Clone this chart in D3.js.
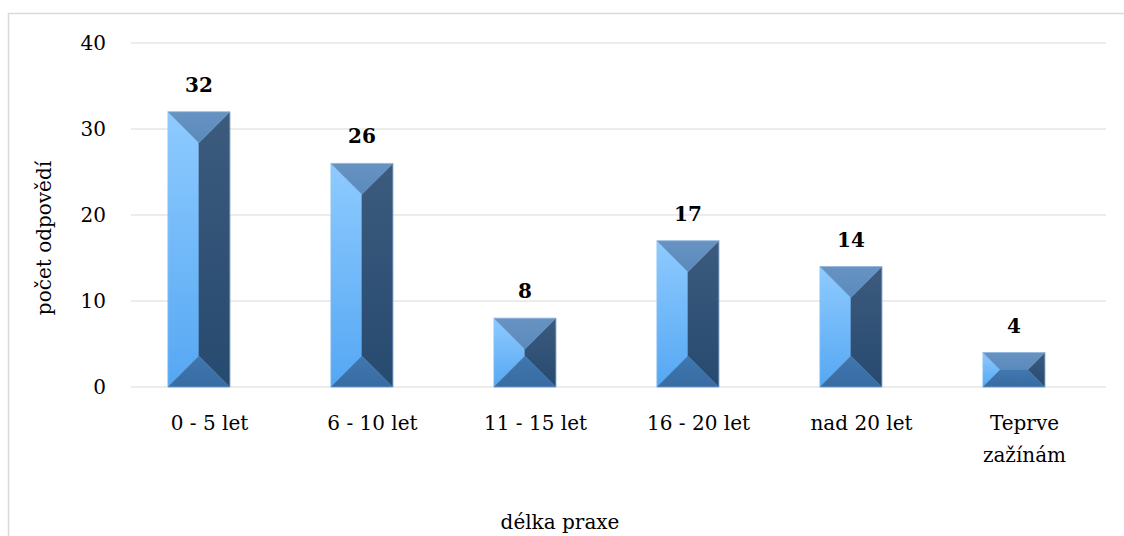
<!DOCTYPE html>
<html>
<head>
<meta charset="utf-8">
<script src="https://cdn.jsdelivr.net/npm/d3@7"></script>
<style>
  html, body { margin: 0; padding: 0; background: #fff; }
  svg { display: block; }
  text { font-family: "DejaVu Serif", "Liberation Serif", serif; fill: #000; }
</style>
</head>
<body>
<svg id="chart" width="1124" height="536"></svg>
<script>
// Délka praxe respondentů
const categories = ["0 - 5 let", "6 - 10 let", "11 - 15 let", "16 - 20 let", "nad 20 let", "Teprve zažínám"];
const values = [32, 26, 8, 17, 14, 4];
const yTicks = [0, 10, 20, 30, 40];
const yTitle = "počet odpovědí";
const xTitle = "délka praxe";

const W = 1124, H = 536;
const plot = { left: 128, right: 1106, top: 43, bottom: 387 };
const fs = 20;

const svg = d3.select("#chart");

// outer chart frame
svg.append("rect")
  .attr("x", 8.5).attr("y", 13.5)
  .attr("width", 1140).attr("height", 560)
  .attr("fill", "none").attr("stroke", "#d9d9d9").attr("stroke-width", 1.5);

const x = d3.scaleBand().domain(categories).range([plot.left, plot.right]).padding(0);
const y = d3.scaleLinear().domain([0, 40]).range([plot.bottom, plot.top]);

// gradients for the bevelled bar faces
const defs = svg.append("defs");
function vGrad(id, c0, c1) {
  const g = defs.append("linearGradient").attr("id", id)
    .attr("x1", 0).attr("y1", 0).attr("x2", 0).attr("y2", 1);
  g.append("stop").attr("offset", "0%").attr("stop-color", c0);
  g.append("stop").attr("offset", "100%").attr("stop-color", c1);
}
vGrad("faceLeft", "#8ecbff", "#55a7f3");
vGrad("faceRight", "#3c5b7d", "#274a70");
vGrad("faceTop", "#6793c2", "#5a8abd");
vGrad("faceBottom", "#3f77ae", "#386ca3");

// horizontal gridlines
svg.append("g")
  .selectAll("line")
  .data(yTicks)
  .join("line")
  .attr("x1", 131).attr("x2", plot.right)
  .attr("y1", d => y(d)).attr("y2", d => y(d))
  .attr("stroke", "#d9d9d9").attr("stroke-width", 1.2);

// y tick labels
svg.append("g")
  .selectAll("text")
  .data(yTicks)
  .join("text")
  .attr("x", 106).attr("y", d => y(d))
  .attr("dy", "0.36em")
  .attr("text-anchor", "end")
  .attr("font-size", fs)
  .text(d => d);

// bars: four bevelled faces meeting in the middle
const barW = x.bandwidth() * 0.38;
const shift = -x.bandwidth() * 0.065;

const bars = svg.append("g")
  .selectAll("g")
  .data(categories.map((c, i) => ({ c, v: values[i] })))
  .join("g");

bars.each(function(d) {
  const g = d3.select(this);
  const cx = x(d.c) + x.bandwidth() / 2 + shift;
  const x0 = cx - barW / 2, x1 = cx + barW / 2;
  const y0 = y(d.v), y1 = y(0);
  const h = y1 - y0;
  const k = Math.min(barW, h) / 2;
  const ix0 = x0 + k, ix1 = x1 - k, iy0 = y0 + k, iy1 = y1 - k;
  const faces = [
    ["faceLeft",   [[x0, y0], [ix0, iy0], [ix0, iy1], [x0, y1]]],
    ["faceRight",  [[x1, y0], [x1, y1], [ix1, iy1], [ix1, iy0]]],
    ["faceTop",    [[x0, y0], [x1, y0], [ix1, iy0], [ix0, iy0]]],
    ["faceBottom", [[x0, y1], [ix0, iy1], [ix1, iy1], [x1, y1]]]
  ];
  faces.forEach(([id, pts]) => {
    g.append("path")
      .attr("d", d3.line()(pts) + "Z")
      .attr("fill", `url(#${id})`)
      .attr("stroke", `url(#${id})`)
      .attr("stroke-width", 0.5);
  });
  g.append("rect")
    .attr("x", x0).attr("y", y0).attr("width", barW).attr("height", h)
    .attr("fill", "none").attr("stroke", "#9cc6ee").attr("stroke-opacity", 0.55)
    .attr("stroke-width", 0.8);

  // value label
  g.append("text")
    .attr("x", cx).attr("y", y0 - 20)
    .attr("text-anchor", "middle")
    .attr("font-size", fs).attr("font-weight", "bold")
    .text(d.v);
});

// category labels (wrapped when long)
const catLabels = svg.append("g")
  .selectAll("text")
  .data(categories)
  .join("text")
  .attr("x", d => x(d) + x.bandwidth() / 2)
  .attr("y", 430)
  .attr("text-anchor", "middle")
  .attr("font-size", fs);

catLabels.each(function(d) {
  const t = d3.select(this);
  const words = d.length > 12 ? d.split(" ") : [d];
  words.forEach((w, i) => {
    t.append("tspan")
      .attr("x", x(d) + x.bandwidth() / 2)
      .attr("dy", i === 0 ? 0 : 32)
      .text(w);
  });
});

// axis titles
svg.append("text")
  .attr("transform", "translate(51,238) rotate(-90)")
  .attr("text-anchor", "middle")
  .attr("font-size", fs)
  .text(yTitle);

svg.append("text")
  .attr("x", 560).attr("y", 529)
  .attr("text-anchor", "middle")
  .attr("font-size", fs)
  .text(xTitle);
</script>
</body>
</html>
